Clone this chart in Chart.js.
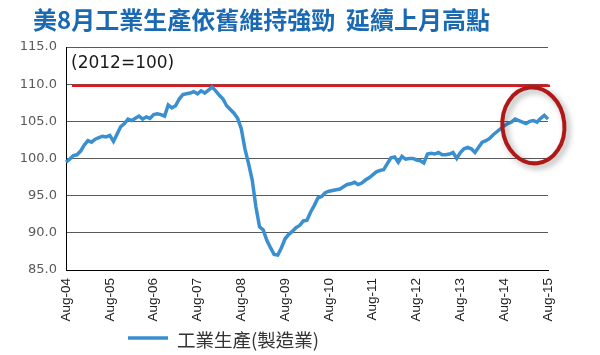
<!DOCTYPE html>
<html>
<head>
<meta charset="utf-8">
<script src="https://cdn.jsdelivr.net/npm/chart.js@4.4.0/dist/chart.umd.min.js"></script>
<style>
html, body { margin: 0; padding: 0; background: #fff; }
</style>
</head>
<body>
<canvas id="prodChart" width="600" height="355"></canvas>
<script>
var titleText = '美8月工業生產依舊維持強勁  延續上月高點';
var baseNote = '(2012=100)';
var seriesName = '工業生產(製造業)';

var monthNames = ['Aug', 'Sep', 'Oct', 'Nov', 'Dec', 'Jan', 'Feb', 'Mar', 'Apr', 'May', 'Jun', 'Jul'];
var tickLabels = ['Aug-04', 'Aug-05', 'Aug-06', 'Aug-07', 'Aug-08', 'Aug-09',
                  'Aug-10', 'Aug-11', 'Aug-12', 'Aug-13', 'Aug-14', 'Aug-15'];

// monthly index, Aug-04 .. Aug-15
var production = [
    99.5, 99.9, 100.4, 100.5, 101.0, 101.8, 102.4, 102.2, 102.6, 102.8, 103.0, 102.9,
    103.1, 102.3, 103.3, 104.3, 104.7, 105.3, 105.1, 105.4, 105.7, 105.3, 105.6, 105.4,
    105.9, 106.0, 105.9, 105.7, 107.2, 106.8, 107.1, 108.0, 108.6, 108.7, 108.8, 109.0,
    108.7, 109.1, 108.8, 109.2, 109.6, 109.1, 108.5, 108.0, 107.1, 106.6, 106.1, 105.4,
    104.0, 101.3, 99.3, 97.1, 93.5, 90.8, 90.4, 89.0, 88.0, 87.1, 87.0, 88.0,
    89.2, 89.8, 90.2, 90.7, 91.0, 91.6, 91.7, 92.8, 93.7, 94.7, 94.9, 95.4,
    95.6, 95.7, 95.8, 95.9, 96.2, 96.5, 96.6, 96.8, 96.5, 96.7, 97.1, 97.4,
    97.8, 98.2, 98.4, 98.5, 99.3, 100.1, 100.2, 99.5, 100.3, 99.9, 100.0, 100.0,
    99.8, 99.7, 99.4, 100.6, 100.7, 100.6, 100.8, 100.5, 100.5, 100.6, 100.8, 100.0,
    100.8, 101.3, 101.5, 101.3, 100.8, 101.5, 102.2, 102.4, 102.7, 103.2, 103.6, 104.0,
    104.4, 104.7, 104.9, 105.3, 105.1, 104.9, 104.7, 105.0, 105.1, 104.9, 105.4, 105.8,
    105.3
];

var prevPeak = 109.8;      // red reference line
var circleAt = [128, 104.45];   // [month index, value] of the highlight ellipse

// month categories built from the yearly tick labels
var categories = [];
for (var i = 0; i < production.length; i++) {
    var yr = 4 + Math.floor((i + 7) / 12);
    categories.push(monthNames[i % 12] + '-' + (yr < 10 ? '0' + yr : '' + yr));
}

var lineColor = '#3a8fd0';

var extras = {
    id: 'extras',
    beforeDatasetsDraw: function(chart) {
        var ctx = chart.ctx, a = chart.chartArea;
        var y = chart.scales.y.getPixelForValue(prevPeak);
        ctx.save();
        ctx.strokeStyle = '#e8141a';
        ctx.lineWidth = 2.5;
        ctx.beginPath();
        ctx.moveTo(a.left + 6, y);
        ctx.lineTo(a.right + 2, y);
        ctx.stroke();
        ctx.restore();
    },
    afterDatasetsDraw: function(chart) {
        var ctx = chart.ctx;
        var cx = chart.scales.x.getPixelForValue(circleAt[0]);
        var cy = chart.scales.y.getPixelForValue(circleAt[1]);
        ctx.save();
        ctx.shadowColor = 'rgba(0,0,0,0.35)';
        ctx.shadowBlur = 6;
        ctx.shadowOffsetX = 3;
        ctx.shadowOffsetY = 3;
        ctx.strokeStyle = '#b01818';
        ctx.lineWidth = 4;
        ctx.beginPath();
        ctx.ellipse(cx, cy, 31, 38, -0.1, 0, Math.PI * 2);
        ctx.stroke();
        ctx.restore();
    },
    afterDraw: function(chart) {
        var ctx = chart.ctx, a = chart.chartArea;
        ctx.save();
        ctx.textBaseline = 'middle';
        ctx.textAlign = 'left';
        // title
        ctx.fillStyle = '#1a6ab3';
        ctx.font = 'bold 24px "Noto Sans CJK TC"';
        ctx.fillText(titleText, 33, 20);
        // base year note
        ctx.fillStyle = '#1a1a1a';
        ctx.font = '17px "DejaVu Sans"';
        ctx.fillText(baseNote, a.left + 5, 64);
        // legend
        ctx.strokeStyle = lineColor;
        ctx.lineWidth = 3.5;
        ctx.beginPath();
        ctx.moveTo(128, 338);
        ctx.lineTo(168, 338);
        ctx.stroke();
        ctx.fillStyle = '#333';
        ctx.font = '18.5px "Noto Sans CJK TC"';
        ctx.fillText(seriesName, 177, 340);
        ctx.restore();
    }
};

var ctx = document.getElementById('prodChart').getContext('2d');
var chart = new Chart(ctx, {
    type: 'line',
    data: {
        labels: categories,
        datasets: [{
            label: seriesName,
            data: production,
            borderColor: lineColor,
            backgroundColor: lineColor,
            borderWidth: 3.5,
            pointRadius: 0,
            tension: 0
        }]
    },
    options: {
        responsive: false,
        animation: false,
        devicePixelRatio: 1,
        layout: { padding: { top: 47, left: 10, right: 52, bottom: 0 } },
        plugins: {
            legend: { display: false },
            title: { display: false },
            tooltip: { enabled: false }
        },
        scales: {
            x: {
                offset: false,
                grid: { display: false, drawTicks: false },
                border: { color: '#000', width: 1 },
                ticks: {
                    autoSkip: false,
                    maxRotation: 90,
                    minRotation: 90,
                    padding: 8,
                    color: '#222',
                    font: { family: 'Liberation Sans', size: 13.5 },
                    callback: function(val, idx) {
                        return idx % 12 === 0 ? tickLabels[idx / 12] : '';
                    }
                },
                afterFit: function(s) { s.height = 85; }
            },
            y: {
                min: 85,
                max: 115,
                grid: { color: '#5a5a5a', lineWidth: 1, drawTicks: false },
                border: { color: '#000', width: 1 },
                ticks: {
                    stepSize: 5,
                    padding: 9,
                    color: '#595959',
                    font: { family: 'DejaVu Sans', size: 13 },
                    callback: function(v) { return v.toFixed(1); }
                },
                afterFit: function(s) { s.width = 56; }
            }
        }
    },
    plugins: [extras]
});
</script>
</body>
</html>
